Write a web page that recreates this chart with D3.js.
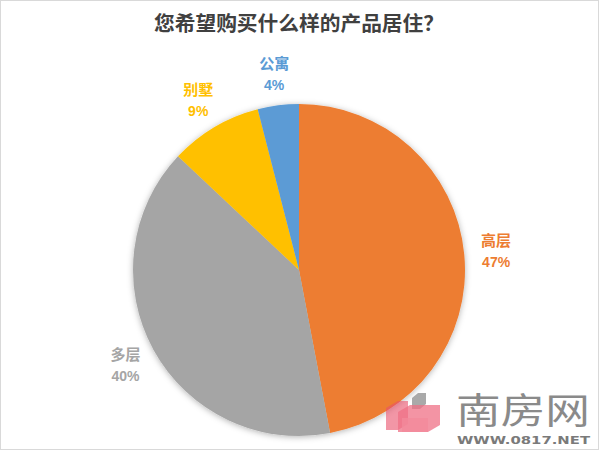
<!DOCTYPE html>
<html><head><meta charset="utf-8">
<script src="https://cdn.jsdelivr.net/npm/d3@7/dist/d3.min.js"></script>
<style>body{margin:0;background:#fff}svg{display:block}</style>
</head><body>
<svg id="c" width="600" height="452"></svg>
<script>
const title = "您希望购买什么样的产品居住？";
const categories = ["高层", "多层", "别墅", "公寓"];
const values = [47, 40, 9, 4];
const colors = ["#ED7D31", "#A5A5A5", "#FFC000", "#5B9BD5"];

const svg = d3.select("#c");
const W = 600, H = 452, cx = 299, cy = 270, R = 166;

svg.append("rect").attr("x",0.5).attr("y",0.5).attr("width",W-2).attr("height",H-3)
  .attr("fill","#fff").attr("stroke","#d9d9d9");

const defs = svg.append("defs");
const f = defs.append("filter").attr("id","sh").attr("x","-20%").attr("y","-20%").attr("width","140%").attr("height","140%");
f.append("feDropShadow").attr("dx",0).attr("dy",1).attr("stdDeviation",3).attr("flood-color","#000").attr("flood-opacity",0.3);

svg.append("text").attr("x",299).attr("y",31).attr("text-anchor","middle")
  .attr("font-family","'Noto Sans CJK SC', sans-serif").attr("font-weight","bold")
  .attr("font-size",20).attr("fill","#404040")
  .attr("textLength",290).attr("lengthAdjust","spacingAndGlyphs").text(title);

const data = categories.map((c,i)=>({name:c, value:values[i], color:colors[i]}));
const pie = d3.pie().value(d=>d.value).sort(null);
const arcs = pie(data);
const arc = d3.arc().innerRadius(0).outerRadius(R);
const labelArc = d3.arc().innerRadius(198).outerRadius(198);

const g = svg.append("g").attr("transform",`translate(${cx},${cy})`);
g.append("g").attr("filter","url(#sh)").selectAll("path").data(arcs).join("path")
  .attr("d",arc).attr("fill",d=>d.data.color);

const lab = g.selectAll("g.lab").data(arcs).join("g").attr("class","lab")
  .attr("transform",d=>{const [x,y]=labelArc.centroid(d);return `translate(${x},${y})`;})
  .attr("font-family","'Noto Sans CJK SC', sans-serif").attr("font-weight","bold")
  .attr("font-size",15).attr("text-anchor","middle").attr("fill",d=>d.data.color);
lab.append("text").attr("y",-5).text(d=>d.data.name);
lab.append("text").attr("y",16).attr("font-family","Arial, 'Liberation Sans', sans-serif").attr("font-size",14).text(d=>d.data.value+"%");

// watermark
const wm = svg.append("g");
wm.append("polygon").attr("points","412,398 418,393 426,393 426,404 420,409 412,409").attr("fill","#a9a9a9");
wm.append("polygon").attr("points","386,408 398,401 408,401 408,424 398,430 386,430").attr("fill","#e9506a").attr("opacity",0.6);
wm.append("polygon").attr("points","398,412 410,405 440,405 440,425 428,432 398,432").attr("fill","#ef7085").attr("opacity",0.75);
wm.append("polygon").attr("points","402,418 428,418 428,432 402,432").attr("fill","#f28a9b").attr("opacity",0.8);
wm.append("text").attr("x",456).attr("y",424)
  .attr("font-family","'Noto Sans CJK SC', sans-serif").attr("font-size",36).attr("fill","#8a8a8a")
  .attr("textLength",134).attr("lengthAdjust","spacingAndGlyphs").text("南房网");
wm.append("text").attr("x",457).attr("y",444)
  .attr("font-family","'DejaVu Sans', sans-serif").attr("font-weight","bold").attr("font-size",10)
  .attr("textLength",133).attr("lengthAdjust","spacingAndGlyphs").attr("fill","#7a7a7a").text("WWW.0817.NET");
</script>
</body></html>
